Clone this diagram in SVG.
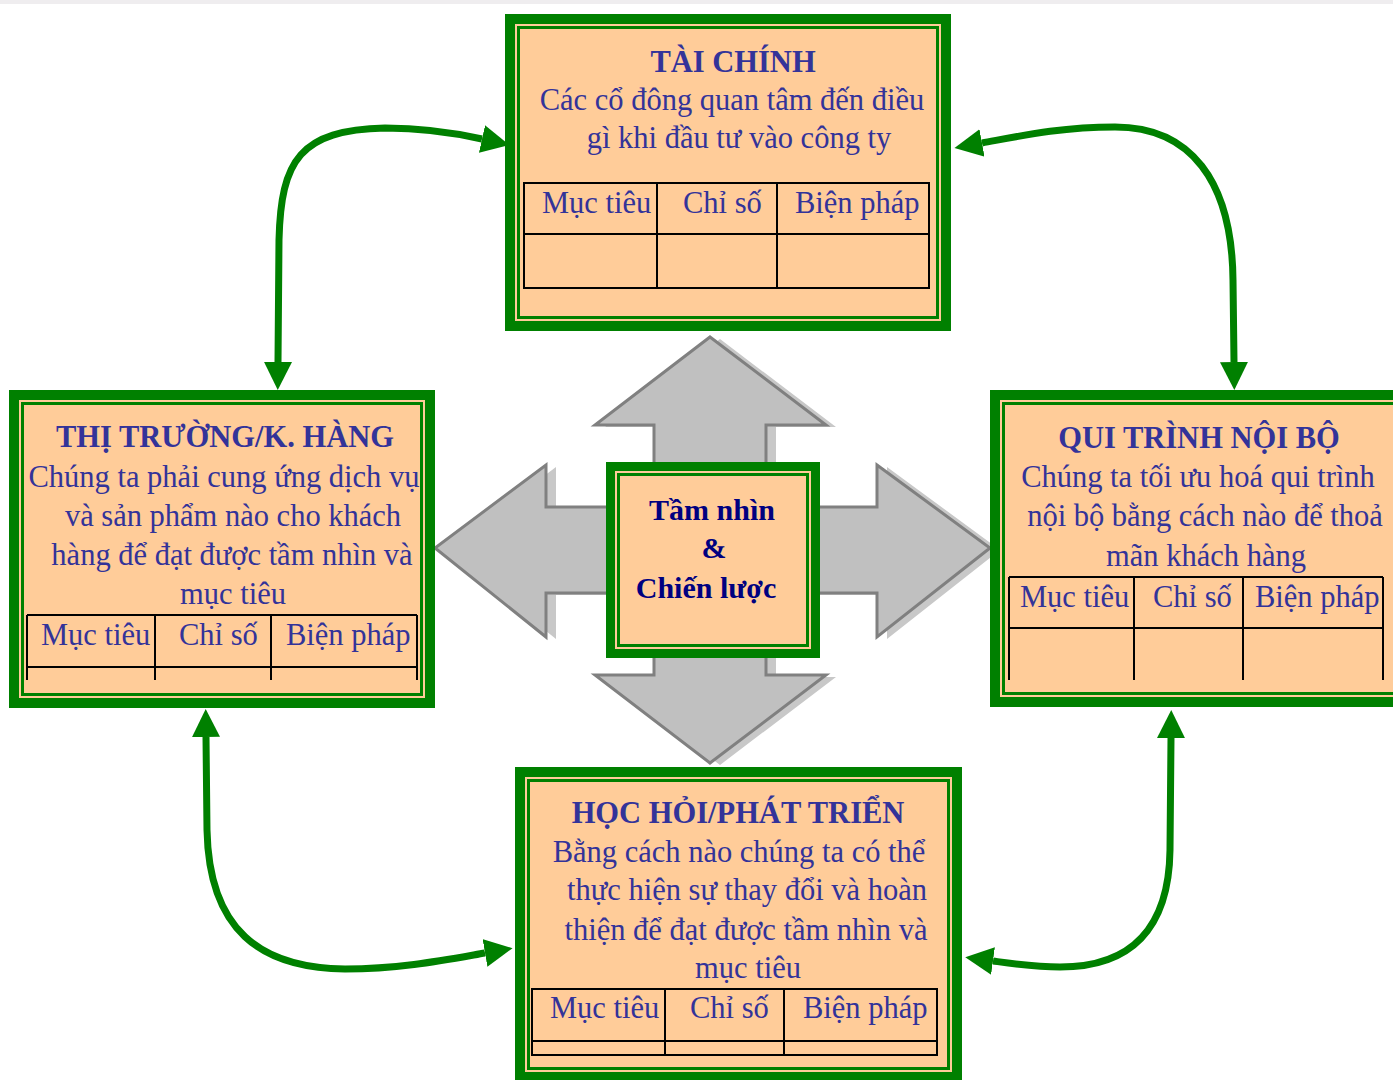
<svg xmlns="http://www.w3.org/2000/svg" width="1393" height="1080" viewBox="0 0 1393 1080">
<defs>
<style>
.frame{fill:#008000}
.fill{fill:#FFCC99}
.thin{fill:none;stroke:#008000;stroke-width:3}
.t{font-family:"Liberation Serif","Times New Roman",serif;font-size:30.5px;fill:#333399}
.tt{font-weight:bold;text-anchor:middle}
.tb{text-anchor:middle}
.ctr{font-family:"Liberation Serif","Times New Roman",serif;font-size:30px;font-weight:bold;fill:#000080;text-anchor:middle}
.tbl{fill:none;stroke:#000;stroke-width:2}
.conn{fill:none;stroke:#008000;stroke-width:7}
.cross{fill:#C0C0C0;stroke:#808080;stroke-width:3;stroke-linejoin:miter}
.shadow{fill:#C8C8C8}
</style>
<marker id="ah" markerUnits="userSpaceOnUse" markerWidth="30" markerHeight="30" refX="0" refY="14" orient="auto-start-reverse" viewBox="0 0 30 30">
<path d="M0,0 L28,14 L0,28 z" fill="#008000"/>
</marker>
</defs>
<rect x="0" y="0" width="1393" height="4" fill="#EFEDEF"/>

<g id="cross-arrows">
<polygon class="shadow" transform="translate(10,2)" points="710,337 826,425 766,425 766,507 877,507 877,465 990,548 877,637 877,593 766,593 766,675 826,675 710,763 595,675 654,675 654,593 546,593 546,637 435,548 546,465 546,507 654,507 654,425 595,425"/>
<polygon class="cross" points="710,337 826,425 766,425 766,507 877,507 877,465 990,548 877,637 877,593 766,593 766,675 826,675 710,763 595,675 654,675 654,593 546,593 546,637 435,548 546,465 546,507 654,507 654,425 595,425"/>
</g>

<g id="connectors">
<path class="conn" marker-start="url(#ah)" marker-end="url(#ah)" d="M278,362 L279,240 C281,160 300,130 385,128 C420,128 455,133 482,139"/>
<path class="conn" marker-start="url(#ah)" marker-end="url(#ah)" d="M982,143 C1020,136 1060,127 1115,127 C1190,127 1232,180 1233,280 L1234,362"/>
<path class="conn" marker-start="url(#ah)" marker-end="url(#ah)" d="M206,737 L207,830 C209,930 260,968 345,969 C400,969 445,960 485,953"/>
<path class="conn" marker-start="url(#ah)" marker-end="url(#ah)" d="M1171,738 L1170,850 C1169,930 1130,967 1060,967 C1035,967 1015,964 993,961"/>
</g>

<g id="tai-chinh">
<rect class="frame" x="505" y="14" width="446" height="317"/>
<rect class="fill" x="515" y="24" width="426" height="297"/>
<rect class="thin" x="518.5" y="27.5" width="419" height="290"/>
<text class="t tt" x="733" y="72">TÀI CHÍNH</text>
<text class="t tb" x="732" y="110">Các cổ đông quan tâm đến điều</text>
<text class="t tb" x="739" y="148">gì khi đầu tư vào công ty</text>
<rect class="tbl" x="524" y="183" width="405" height="105"/>
<line class="tbl" x1="524" y1="234" x2="929" y2="234"/>
<line class="tbl" x1="657" y1="183" x2="657" y2="288"/>
<line class="tbl" x1="777" y1="183" x2="777" y2="288"/>
<text class="t" x="542" y="213">Mục tiêu</text>
<text class="t" x="683" y="213">Chỉ số</text>
<text class="t" x="795" y="213">Biện pháp</text>
</g>

<g id="thi-truong">
<rect class="frame" x="9" y="390" width="426" height="318"/>
<rect class="fill" x="19" y="400" width="406" height="298"/>
<rect class="thin" x="22.5" y="403.5" width="399" height="291"/>
<text class="t tt" x="225" y="447">THỊ TRƯỜNG/K. HÀNG</text>
<text class="t tb" x="224" y="487">Chúng ta phải cung ứng dịch vụ</text>
<text class="t tb" x="233" y="526">và sản phẩm nào cho khách</text>
<text class="t tb" x="232" y="565">hàng để đạt được tầm nhìn và</text>
<text class="t tb" x="233" y="604">mục tiêu</text>
<line class="tbl" x1="27" y1="615" x2="417" y2="615"/>
<line class="tbl" x1="27" y1="667" x2="417" y2="667"/>
<line class="tbl" x1="27" y1="615" x2="27" y2="680"/>
<line class="tbl" x1="155" y1="615" x2="155" y2="680"/>
<line class="tbl" x1="271" y1="615" x2="271" y2="680"/>
<line class="tbl" x1="417" y1="615" x2="417" y2="680"/>
<text class="t" x="41" y="645">Mục tiêu</text>
<text class="t" x="179" y="645">Chỉ số</text>
<text class="t" x="286" y="645">Biện pháp</text>
</g>

<g id="qui-trinh">
<rect class="frame" x="990" y="390" width="420" height="317"/>
<rect class="fill" x="1000" y="400" width="400" height="297"/>
<rect class="thin" x="1003.5" y="403.5" width="393" height="290"/>
<text class="t tt" x="1199" y="448">QUI TRÌNH NỘI BỘ</text>
<text class="t tb" x="1198" y="487">Chúng ta tối ưu hoá qui trình</text>
<text class="t tb" x="1205" y="526">nội bộ bằng cách nào để thoả</text>
<text class="t tb" x="1206" y="566">mãn khách hàng</text>
<line class="tbl" x1="1009" y1="577" x2="1383" y2="577"/>
<line class="tbl" x1="1009" y1="628" x2="1383" y2="628"/>
<line class="tbl" x1="1009" y1="577" x2="1009" y2="680"/>
<line class="tbl" x1="1134" y1="577" x2="1134" y2="680"/>
<line class="tbl" x1="1243" y1="577" x2="1243" y2="680"/>
<line class="tbl" x1="1383" y1="577" x2="1383" y2="680"/>
<text class="t" x="1020" y="607">Mục tiêu</text>
<text class="t" x="1153" y="607">Chỉ số</text>
<text class="t" x="1255" y="607">Biện pháp</text>
</g>

<g id="hoc-hoi">
<rect class="frame" x="515" y="767" width="447" height="315"/>
<rect class="fill" x="525" y="777" width="427" height="295"/>
<rect class="thin" x="528.5" y="780.5" width="420" height="288"/>
<text class="t tt" x="738" y="823">HỌC HỎI/PHÁT TRIỂN</text>
<text class="t tb" x="739" y="862">Bằng cách nào chúng ta có thể</text>
<text class="t tb" x="747" y="900">thực hiện sự thay đổi và hoàn</text>
<text class="t tb" x="746" y="940">thiện để đạt được tầm nhìn và</text>
<text class="t tb" x="748" y="978">mục tiêu</text>
<rect class="tbl" x="532" y="989" width="405" height="66"/>
<line class="tbl" x1="532" y1="1041" x2="937" y2="1041"/>
<line class="tbl" x1="665" y1="989" x2="665" y2="1055"/>
<line class="tbl" x1="784" y1="989" x2="784" y2="1055"/>
<text class="t" x="550" y="1018">Mục tiêu</text>
<text class="t" x="690" y="1018">Chỉ số</text>
<text class="t" x="803" y="1018">Biện pháp</text>
</g>

<g id="tam-nhin">
<rect class="frame" x="606" y="462" width="214" height="196"/>
<rect class="fill" x="615" y="471" width="196" height="178"/>
<rect class="thin" x="618.5" y="474.5" width="189" height="171"/>
<text class="ctr" x="712" y="520">Tầm nhìn</text>
<text class="ctr" x="714" y="558">&amp;</text>
<text class="ctr" x="706" y="598">Chiến lược</text>
</g>
</svg>
